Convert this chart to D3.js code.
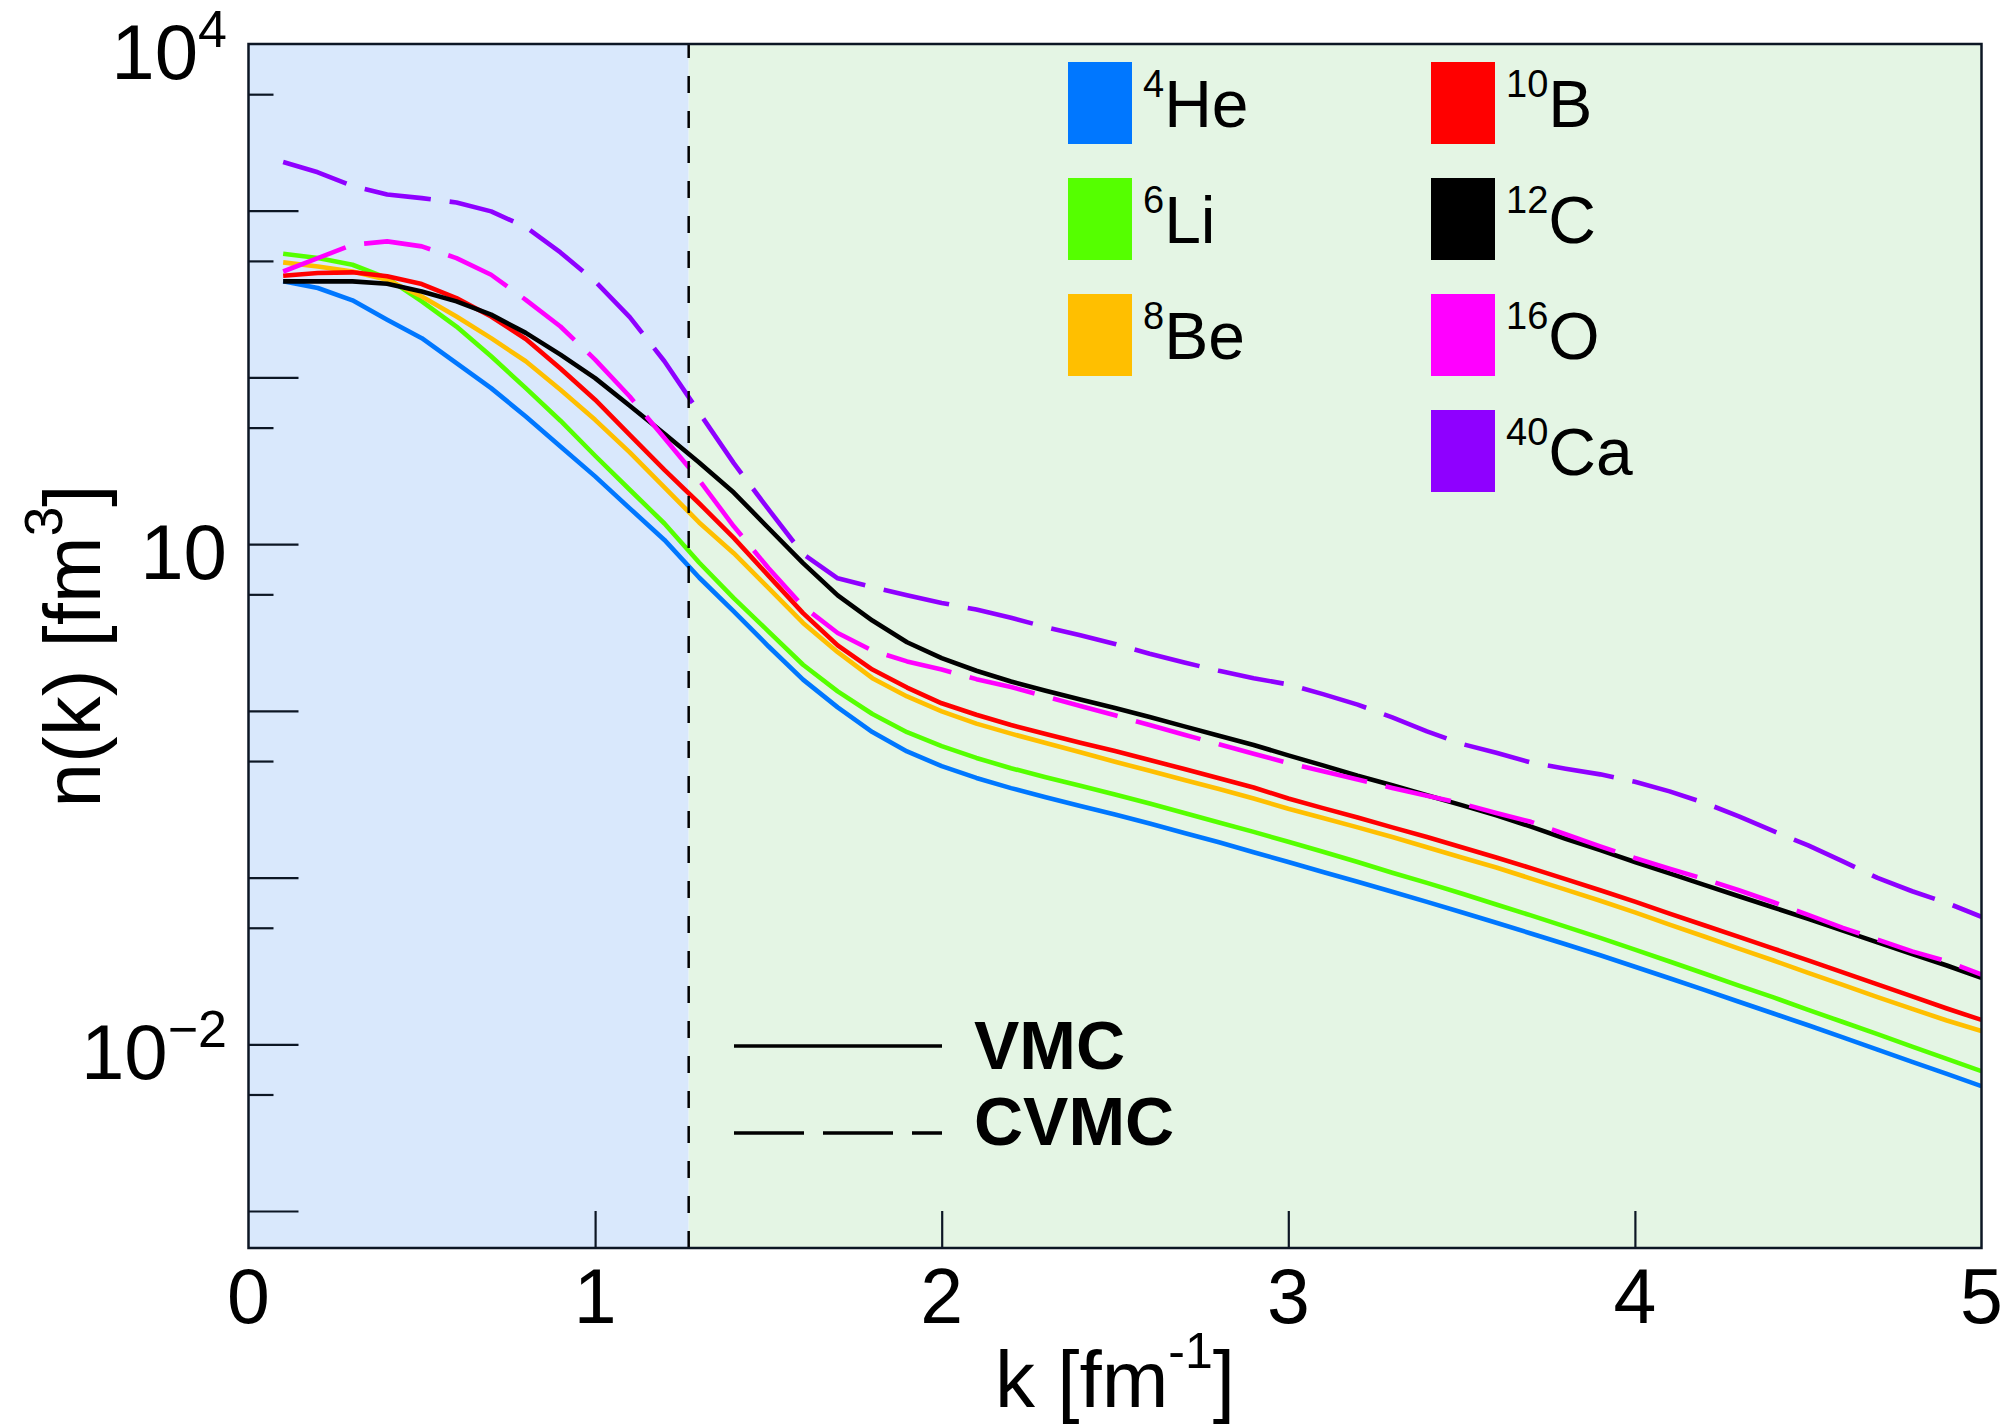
<!DOCTYPE html>
<html>
<head>
<meta charset="utf-8">
<script src="https://cdn.jsdelivr.net/npm/d3@7"></script>
<style>
  html, body { margin: 0; padding: 0; background: #ffffff; }
  svg { display: block; }
  text { font-family: "Liberation Sans", Arial, Helvetica, sans-serif; fill: #000; }
</style>
</head>
<body>
<svg id="chart" width="2008" height="1425"></svg>
<script>
// Momentum grid k [fm^-1]
const kGrid = [0.1, 0.2, 0.3, 0.4, 0.5, 0.6, 0.7, 0.8, 0.9, 1.0,
               1.1, 1.2, 1.3, 1.4, 1.5, 1.6, 1.7, 1.8, 1.9, 2.0,
               2.1, 2.2, 2.3, 2.4, 2.5, 2.6, 2.7, 2.8, 2.9, 3.0,
               3.1, 3.2, 3.3, 3.4, 3.5, 3.6, 3.7, 3.8, 3.9, 4.0,
               4.1, 4.2, 4.3, 4.4, 4.5, 4.6, 4.7, 4.8, 4.9, 5.0];

// Momentum distributions n(k) [fm^3]
const nHe4 = [377, 344, 290, 222, 172, 122, 86.3, 58.3, 38.5, 25.5,
              16.4, 10.6, 6.31, 3.95, 2.44, 1.54, 1.05, 0.746, 0.571, 0.466,
              0.396, 0.344, 0.303, 0.269, 0.239, 0.211, 0.185, 0.163, 0.142, 0.124,
              0.108, 0.0944, 0.0822, 0.0715, 0.0619, 0.0536, 0.0462, 0.0398, 0.0342, 0.0292,
              0.0249, 0.0212, 0.0180, 0.0153, 0.0130, 0.0110, 0.00929, 0.00785, 0.00664, 0.00561];

const nLi6 = [552, 520, 474, 394, 286, 202, 134, 86.3, 55.0, 33.9,
              21.2, 13.3, 7.76, 4.75, 3.00, 1.89, 1.31, 0.957, 0.745, 0.614,
              0.522, 0.453, 0.400, 0.356, 0.315, 0.278, 0.244, 0.214, 0.188, 0.164,
              0.143, 0.124, 0.107, 0.0929, 0.0802, 0.0690, 0.0593, 0.0508, 0.0435, 0.0370,
              0.0314, 0.0266, 0.0225, 0.0191, 0.0161, 0.0136, 0.0115, 0.00968, 0.00817, 0.00690];

const nBe8 = [490, 463, 432, 385, 306, 232, 172, 125, 84.3, 55.7,
              35.5, 21.9, 13.5, 8.83, 5.46, 3.37, 2.25, 1.57, 1.22, 0.993,
              0.838, 0.730, 0.641, 0.564, 0.495, 0.437, 0.385, 0.340, 0.298, 0.259,
              0.228, 0.200, 0.175, 0.152, 0.132, 0.115, 0.0986, 0.0847, 0.0726, 0.0619,
              0.0522, 0.0443, 0.0375, 0.0318, 0.0268, 0.0227, 0.0192, 0.0163, 0.0139, 0.0120];

const nB10 = [407, 423, 427, 404, 363, 299, 232, 170, 113, 73.5,
              45.3, 27.9, 17.6, 10.9, 6.47, 3.86, 2.47, 1.77, 1.38, 1.11,
              0.948, 0.822, 0.726, 0.644, 0.574, 0.507, 0.448, 0.394, 0.347, 0.298,
              0.261, 0.229, 0.200, 0.175, 0.152, 0.132, 0.114, 0.0979, 0.0839, 0.0718,
              0.0608, 0.0518, 0.0441, 0.0375, 0.0319, 0.0270, 0.0229, 0.0194, 0.0164, 0.0140];

const nC12 = [377, 377, 377, 365, 328, 286, 238, 185, 137, 99.1,
              67.6, 45.9, 30.9, 20.4, 12.5, 7.69, 4.93, 3.48, 2.58, 2.07,
              1.74, 1.50, 1.32, 1.17, 1.04, 0.918, 0.807, 0.710, 0.624, 0.541,
              0.471, 0.408, 0.358, 0.312, 0.272, 0.236, 0.202, 0.171, 0.146, 0.124,
              0.106, 0.0904, 0.0773, 0.0661, 0.0565, 0.0481, 0.0409, 0.0348, 0.0297, 0.0250];

const nO16 = [432, 520, 625, 655, 611, 520, 413, 292, 202, 128,
              76.9, 43.3, 24.3, 12.8, 7.19, 4.24, 2.93, 2.30, 1.98, 1.77,
              1.55, 1.39, 1.22, 1.07, 0.940, 0.822, 0.719, 0.631, 0.553, 0.486,
              0.435, 0.387, 0.345, 0.310, 0.278, 0.244, 0.216, 0.182, 0.154, 0.131,
              0.113, 0.0982, 0.0839, 0.0711, 0.0597, 0.0499, 0.0425, 0.0361, 0.0315, 0.0262];

const nCa40 = [1960, 1700, 1410, 1250, 1190, 1120, 991, 798, 562, 377,
               230, 125, 61.7, 30.6, 16.2, 8.71, 6.24, 5.52, 4.93, 4.44,
               4.05, 3.62, 3.18, 2.84, 2.52, 2.20, 1.95, 1.74, 1.57, 1.44,
               1.26, 1.09, 0.914, 0.753, 0.634, 0.560, 0.490, 0.450, 0.416, 0.376,
               0.329, 0.281, 0.233, 0.190, 0.156, 0.125, 0.0995, 0.0828, 0.0705, 0.0581];

// Series definitions: mass number, element, colour, method
const seriesNames  = ["4He", "6Li", "8Be", "10B", "12C", "16O", "40Ca"];
const massNumbers  = ["4", "6", "8", "10", "12", "16", "40"];
const elements     = ["He", "Li", "Be", "B", "C", "O", "Ca"];
const seriesValues = [nHe4, nLi6, nBe8, nB10, nC12, nO16, nCa40];
const seriesColors = ["#0077ff", "#55ff00", "#ffbf00", "#ff0000", "#000000", "#ff00ff", "#8f00ff"];
const seriesMethod = ["VMC", "VMC", "VMC", "VMC", "VMC", "CVMC", "CVMC"];

// Fermi momentum separating the two shaded regions
const kFermi = 1.27;

// Axis ticks and labels
const xTickValues = [0, 1, 2, 3, 4, 5];
const yMajorTicks = [1e-3, 1e-2, 1e-1, 1, 10, 100, 1000];
const yMinorTicks = [5e-3, 5e-2, 5e-1, 5, 50, 500, 5000];
const yLabelValues = [1e4, 10, 1e-2];
const yLabelExponents = ["4", "", "\u22122"];

const W = 2008, H = 1425;
const plot = { left: 248.5, right: 1981.5, top: 44, bottom: 1248 };

const svg = d3.select("#chart");
svg.append("rect").attr("width", W).attr("height", H).attr("fill", "#ffffff");

const x = d3.scaleLinear().domain([0, 5]).range([plot.left, plot.right]);
const y = d3.scaleLog().domain([6e-4, 1e4]).range([plot.bottom, plot.top]);

// Shaded momentum regions
svg.append("rect")
  .attr("x", x(0)).attr("y", plot.top)
  .attr("width", x(kFermi) - x(0)).attr("height", plot.bottom - plot.top)
  .attr("fill", "#d9e8fc");
svg.append("rect")
  .attr("x", x(kFermi)).attr("y", plot.top)
  .attr("width", x(5) - x(kFermi)).attr("height", plot.bottom - plot.top)
  .attr("fill", "#e4f5e4");

// Clip for the curves
svg.append("clipPath").attr("id", "plotClip")
  .append("rect")
  .attr("x", plot.left).attr("y", plot.top)
  .attr("width", plot.right - plot.left).attr("height", plot.bottom - plot.top);

// Tick marks (inward)
const tickColor = "#0c1624";
const yMajorAxis = d3.axisLeft(y).tickValues(yMajorTicks).tickSize(-50).tickFormat("");
const yMinorAxis = d3.axisLeft(y).tickValues(yMinorTicks).tickSize(-25).tickFormat("");
const xAxis = d3.axisBottom(x).tickValues(xTickValues.filter(v => v > 0 && v < 5)).tickSize(-37).tickFormat("");

function styleAxis(g) {
  g.select(".domain").remove();
  g.selectAll(".tick line").attr("stroke", tickColor).attr("stroke-width", 2.2);
}
svg.append("g").attr("transform", `translate(${plot.left},0)`).call(yMajorAxis).call(styleAxis);
svg.append("g").attr("transform", `translate(${plot.left},0)`).call(yMinorAxis).call(styleAxis);
svg.append("g").attr("transform", `translate(0,${plot.bottom})`).call(xAxis).call(styleAxis);

// Curves
const line = d3.line()
  .x((d, i) => x(kGrid[i]))
  .y(d => y(d));

const curves = svg.append("g").attr("clip-path", "url(#plotClip)");
seriesValues.forEach((vals, i) => {
  curves.append("path")
    .datum(vals)
    .attr("d", line)
    .attr("fill", "none")
    .attr("stroke", seriesColors[i])
    .attr("stroke-width", 4.6)
    .attr("stroke-linejoin", "round")
    .attr("stroke-dasharray", seriesMethod[i] === "CVMC" ? "67,19" : null);
});

// Fermi momentum marker
svg.append("line")
  .attr("x1", x(kFermi)).attr("x2", x(kFermi))
  .attr("y1", plot.bottom).attr("y2", plot.top)
  .attr("stroke", "#000").attr("stroke-width", 2.5)
  .attr("stroke-dasharray", "17,18");

// Frame
svg.append("rect")
  .attr("x", plot.left).attr("y", plot.top)
  .attr("width", plot.right - plot.left).attr("height", plot.bottom - plot.top)
  .attr("fill", "none").attr("stroke", tickColor).attr("stroke-width", 2.5);

// X tick labels
svg.append("g").selectAll("text")
  .data(xTickValues).join("text")
  .attr("x", d => x(d)).attr("y", plot.bottom + 75)
  .attr("text-anchor", "middle")
  .attr("font-size", 77)
  .text(d => d);

// Y tick labels with exponents
yLabelValues.forEach((v, i) => {
  const t = svg.append("text")
    .attr("x", 227).attr("y", y(v) + 35)
    .attr("text-anchor", "end")
    .attr("font-size", 78);
  t.append("tspan").text("10");
  if (yLabelExponents[i]) {
    t.append("tspan").attr("font-size", 52).attr("dy", -32).text(yLabelExponents[i]);
  }
});

// Axis titles
const xt = svg.append("text")
  .attr("x", (plot.left + plot.right) / 2).attr("y", 1407)
  .attr("text-anchor", "middle").attr("font-size", 80);
xt.append("tspan").text("k [fm");
xt.append("tspan").attr("font-size", 50).attr("dy", -39).text("-1");
xt.append("tspan").attr("dy", 39).text("]");

const yt = svg.append("text")
  .attr("transform", `translate(100,${(plot.top + plot.bottom) / 2}) rotate(-90)`)
  .attr("text-anchor", "middle").attr("font-size", 80);
yt.append("tspan").text("n(k) [fm");
yt.append("tspan").attr("font-size", 53).attr("dy", -38).text("3");
yt.append("tspan").attr("dy", 38).text("]");

// Nucleus legend (two columns)
const legendCols = [1068, 1431];
const legendRowTop = 62, legendRowStep = 116;
const colOf = [0, 0, 0, 1, 1, 1, 1];
const rowOf = [0, 1, 2, 0, 1, 2, 3];
seriesNames.forEach((name, i) => {
  const lx = legendCols[colOf[i]];
  const ly = legendRowTop + rowOf[i] * legendRowStep;
  svg.append("rect")
    .attr("x", lx).attr("y", ly).attr("width", 64).attr("height", 82)
    .attr("fill", seriesColors[i]);
  const t = svg.append("text")
    .attr("x", lx + 75).attr("y", ly + 65)
    .attr("font-size", 66);
  t.append("tspan").attr("font-size", 38).attr("dy", -30).text(massNumbers[i]);
  t.append("tspan").attr("dy", 30).text(elements[i]);
});

// Method legend
const methods = ["VMC", "CVMC"];
const methodLineY = [1046, 1133];
const methodTextY = [1069, 1145];
methods.forEach((m, i) => {
  svg.append("line")
    .attr("x1", 734).attr("x2", 942)
    .attr("y1", methodLineY[i]).attr("y2", methodLineY[i])
    .attr("stroke", "#000").attr("stroke-width", 3.6)
    .attr("stroke-dasharray", m === "CVMC" ? "70,19" : null);
  svg.append("text")
    .attr("x", 974).attr("y", methodTextY[i])
    .attr("font-size", 68).attr("font-weight", "bold")
    .text(m);
});
</script>
</body>
</html>
